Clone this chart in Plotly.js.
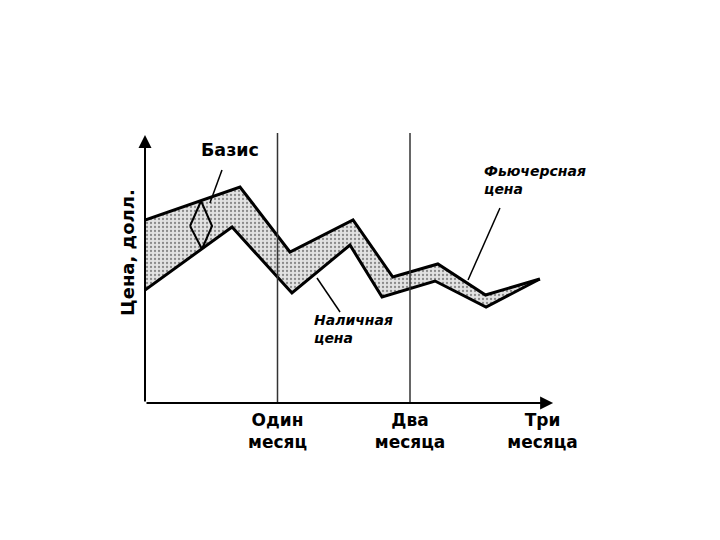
<!DOCTYPE html>
<html><head><meta charset="utf-8">
<script src="https://cdn.plot.ly/plotly-3.0.1.min.js"></script>
<style>body{margin:0;background:#fff}#c{width:720px;height:540px}</style>
</head><body><div id="c"></div>
<script>
// months from start, price (arbitrary units)
const futuresX = [0, 0.717, 1.094, 1.57, 1.87, 2.21, 2.57, 2.98];
const futuresY = [18.3, 21.6, 15.1, 18.3, 12.6, 13.9, 10.8, 12.4];
const cashX = [0, 0.657, 1.109, 1.547, 1.789, 2.189, 2.574, 2.98];
const cashY = [11.3, 17.6, 11.0, 15.8, 10.6, 12.2, 9.6, 12.4];
const monthTicks = [1, 2, 3];
const monthLabels = ["Один<br>месяц", "Два<br>месяца", "Три<br>месяца"];
const gridMonths = [1, 2];
const basisX = [0.34, 0.423, 0.506, 0.43, 0.34];
const basisY = [17.7, 20.2, 17.7, 15.4, 17.7];

const bandX = futuresX.concat(cashX.slice().reverse());
const bandY = futuresY.concat(cashY.slice().reverse());

const traces = [
  {x: bandX, y: bandY, mode: 'lines', fill: 'toself', line: {width: 0},
   fillcolor: '#d6d6d6',
   fillpattern: {shape: '.', bgcolor: '#e2e2e2', fgcolor: '#8a8a8a', size: 4, solidity: 0.25},
   hoverinfo: 'skip', showlegend: false},
  {x: futuresX, y: futuresY, mode: 'lines', line: {color: '#000', width: 3}, showlegend: false},
  {x: cashX, y: cashY, mode: 'lines', line: {color: '#000', width: 3}, showlegend: false},
  {x: basisX, y: basisY, mode: 'lines', line: {color: '#000', width: 2}, showlegend: false}
];

const shapes = gridMonths.map(m => ({type: 'line', xref: 'x', yref: 'paper', x0: m, x1: m, y0: 0, y1: 1,
  line: {color: '#333', width: 1.5}}));
shapes.push({type: 'line', xref: 'x', yref: 'y', x0: 0.581, y0: 23.3, x1: 0.49, y1: 20.0, line: {color: '#000', width: 1.5}});
shapes.push({type: 'line', xref: 'x', yref: 'y', x0: 2.679, y0: 19.5, x1: 2.438, y1: 12.3, line: {color: '#000', width: 1.5}});
shapes.push({type: 'line', xref: 'x', yref: 'y', x0: 1.298, y0: 12.5, x1: 1.472, y1: 9.1, line: {color: '#000', width: 1.5}});

const fam = 'DejaVu Sans, Verdana, sans-serif';
const lblFont = {family: fam, size: 17, color: '#000', weight: 'bold'};
const itFont = {family: fam, size: 14, color: '#000', weight: 'bold', style: 'italic'};

const annotations = [
  // axes with arrows
  {x: 3.08, y: 0, ax: 0, ay: 0, xref: 'x', yref: 'y', axref: 'x', ayref: 'y', showarrow: true,
   arrowhead: 2, arrowsize: 1.3, arrowwidth: 2, arrowcolor: '#000', text: ''},
  {x: 0, y: 26.8, ax: 0, ay: 0, xref: 'x', yref: 'y', axref: 'x', ayref: 'y', showarrow: true,
   arrowhead: 2, arrowsize: 1.3, arrowwidth: 2, arrowcolor: '#000', text: ''},
  {x: 0.642, y: 25.3, xref: 'x', yref: 'y', text: 'Базис', showarrow: false, font: {...lblFont, size: 17.5}},
  {x: 2.54, y: 22.3, xref: 'x', yref: 'y', text: 'Фьючерсная<br>цена', showarrow: false,
   xanchor: 'left', yanchor: 'middle', align: 'left', font: itFont},
  {x: 1.26, y: 7.4, xref: 'x', yref: 'y', text: 'Наличная<br>цена', showarrow: false,
   xanchor: 'left', yanchor: 'middle', align: 'left', font: itFont},
  {x: -0.0425, y: 15.1, xref: 'paper', yref: 'y', text: 'Цена, долл.', showarrow: false,
   textangle: -90, xanchor: 'center', yanchor: 'middle', font: {...lblFont, size: 18}}
];

const layout = {
  width: 720, height: 540,
  margin: {l: 145, r: 151, t: 133, b: 137},
  paper_bgcolor: '#fff', plot_bgcolor: '#fff',
  xaxis: {range: [0, 3.2], tickvals: monthTicks, ticktext: monthLabels, showgrid: false, zeroline: false,
    showline: false, ticks: '', tickfont: lblFont, ticklabelstandoff: 5, fixedrange: true},
  yaxis: {range: [0, 27], showticklabels: false, showgrid: false, zeroline: false, showline: false, ticks: ''},
  shapes: shapes,
  annotations: annotations,
  showlegend: false
};
Plotly.newPlot('c', traces, layout, {displayModeBar: false, staticPlot: true});
</script></body></html>
